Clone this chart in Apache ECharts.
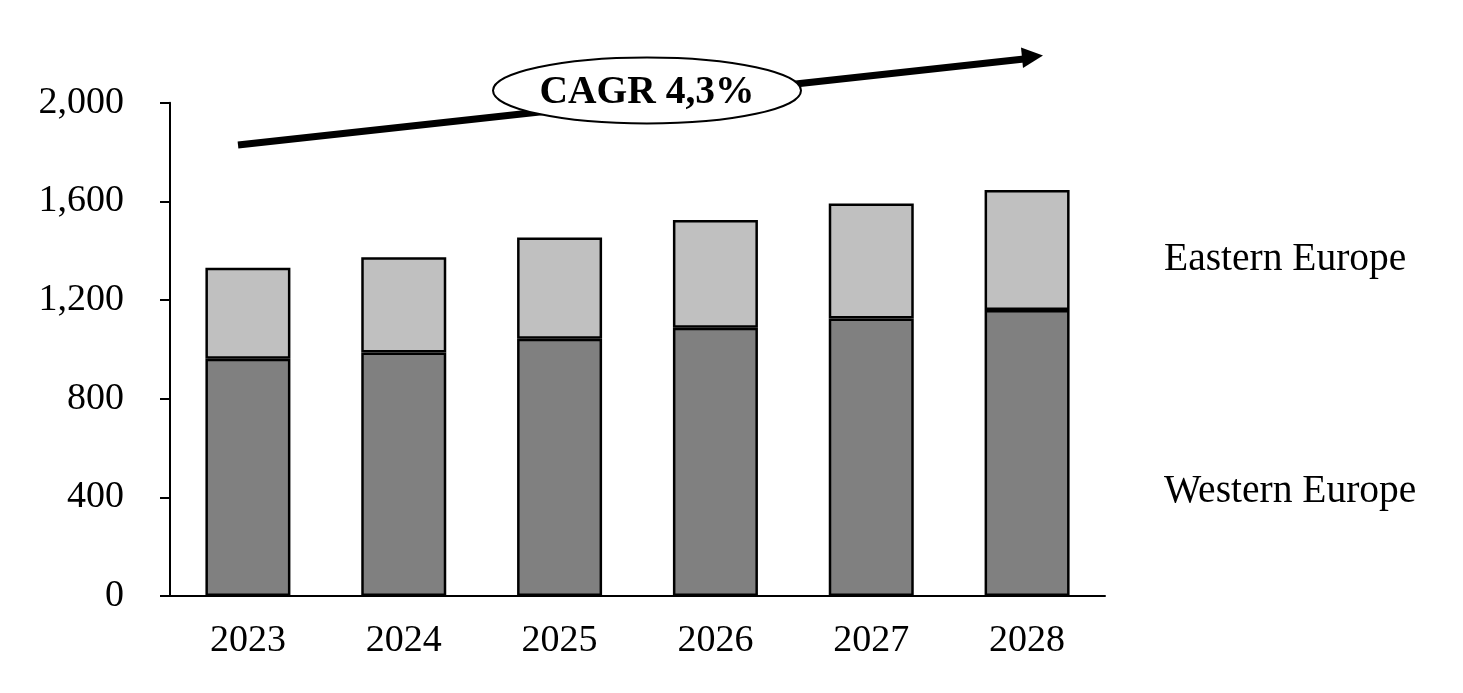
<!DOCTYPE html>
<html>
<head>
<meta charset="utf-8">
<script src="https://cdn.jsdelivr.net/npm/echarts@6/dist/echarts.min.js"></script>
<style>
html,body{margin:0;padding:0;background:#fff;}
#chart{width:1463px;height:693px;}
</style>
</head>
<body>
<div id="chart"></div>
<script>
const categories = ['2023', '2024', '2025', '2026', '2027', '2028'];
const westernEurope = [962, 987, 1043, 1088, 1125, 1160];
const easternEurope = [369, 386, 410, 436, 466, 486];
const seriesNames = ['Western Europe', 'Eastern Europe'];
const yTicks = [0, 400, 800, 1200, 1600, 2000];
const cagrText = 'CAGR 4,3%';

const FONT = '"Liberation Serif", "Times New Roman", serif';
const chart = echarts.init(document.getElementById('chart'));

const option = {
  backgroundColor: '#ffffff',
  animation: false,
  grid: { left: 170, right: 358, top: 102.7, bottom: 97, containLabel: false },
  xAxis: {
    type: 'category',
    data: categories,
    axisLine: { lineStyle: { color: '#000', width: 2 } },
    axisTick: { show: false },
    axisLabel: { color: '#000', fontFamily: FONT, fontSize: 38, margin: 26 }
  },
  yAxis: {
    type: 'value',
    min: yTicks[0],
    max: yTicks[yTicks.length - 1],
    interval: 400,
    splitLine: { show: false },
    axisLine: { show: true, lineStyle: { color: '#000', width: 2 } },
    axisTick: { show: true, inside: false, length: 10, lineStyle: { color: '#000', width: 2 } },
    axisLabel: {
      color: '#000', fontFamily: FONT, fontSize: 38, margin: 46,
      formatter: v => v.toLocaleString('en-US')
    }
  },
  series: [
    {
      name: seriesNames[0], type: 'bar', stack: 'total', data: westernEurope,
      barWidth: 85,
      itemStyle: { color: '#808080', borderColor: '#000', borderWidth: 2.5 }
    },
    {
      name: seriesNames[1], type: 'bar', stack: 'total', data: easternEurope,
      barWidth: 85,
      itemStyle: { color: '#c0c0c0', borderColor: '#000', borderWidth: 2.5 }
    }
  ],
  graphic: [
    {
      type: 'line', z: 10,
      shape: { x1: 238, y1: 145, x2: 1024, y2: 59 },
      style: { stroke: '#000', lineWidth: 7, lineCap: 'butt' }
    },
    {
      type: 'polygon', z: 10,
      shape: { points: [[1021, 47.5], [1043, 55.5], [1023, 68]] },
      style: { fill: '#000' }
    },
    {
      type: 'ellipse', z: 20,
      shape: { cx: 647, cy: 90.5, rx: 154, ry: 33 },
      style: { fill: '#fff', stroke: '#000', lineWidth: 2 }
    },
    {
      type: 'text', z: 21,
      x: 647, y: 93,
      style: {
        text: cagrText, fill: '#000', font: 'bold 39.5px ' + FONT,
        textAlign: 'center', textVerticalAlign: 'middle'
      }
    },
    {
      type: 'text', z: 21,
      x: 1164, y: 260,
      style: {
        text: seriesNames[1], fill: '#000', font: '39.5px ' + FONT,
        textAlign: 'left', textVerticalAlign: 'middle'
      }
    },
    {
      type: 'text', z: 21,
      x: 1164, y: 492,
      style: {
        text: seriesNames[0], fill: '#000', font: '39.5px ' + FONT,
        textAlign: 'left', textVerticalAlign: 'middle'
      }
    }
  ]
};
chart.setOption(option);
</script>
</body>
</html>
